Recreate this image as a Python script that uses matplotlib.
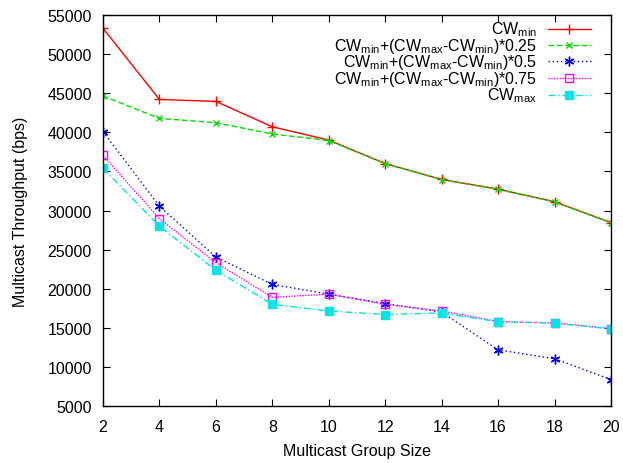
import matplotlib
matplotlib.use("Agg")
import matplotlib.pyplot as plt
from matplotlib.lines import Line2D

plt.rcParams['font.family'] = ['Liberation Sans', 'DejaVu Sans']
plt.rcParams['mathtext.fontset'] = 'custom'
plt.rcParams['mathtext.rm'] = 'Liberation Sans'
plt.rcParams['mathtext.it'] = 'Liberation Sans'

group_size = [2, 4, 6, 8, 10, 12, 14, 16, 18, 20]
cw_min = [53300, 44200, 43950, 40700, 39000, 36000, 33970, 32730, 31120, 28450]
cw_025 = [44650, 41780, 41230, 39780, 38950, 35980, 33950, 32700, 31100, 28420]
cw_050 = [40080, 30550, 24050, 20550, 19300, 18100, 17000, 12180, 11050, 8380]
cw_075 = [37050, 28950, 23330, 18900, 19300, 18000, 17150, 15800, 15620, 14900]
cw_max = [35380, 27990, 22350, 18000, 17150, 16700, 16900, 15770, 15600, 14850]

labels = [r'CW$_{\rm min}$',
          r'CW$_{\rm min}$+(CW$_{\rm max}$-CW$_{\rm min}$)*0.25',
          r'CW$_{\rm min}$+(CW$_{\rm max}$-CW$_{\rm min}$)*0.5',
          r'CW$_{\rm min}$+(CW$_{\rm max}$-CW$_{\rm min}$)*0.75',
          r'CW$_{\rm max}$']
series = [cw_min, cw_025, cw_050, cw_075, cw_max]
styles = [
    dict(color='#ff0000', ls='-', marker='+', ms=7, mfc='#ff0000'),
    dict(color='#00dd00', ls=(0, (4, 2)), marker='x', ms=5, mfc='#00dd00'),
    dict(color='#0000ff', ls=(0, (1, 2)), marker=(6, 2, 0), ms=7, mfc='#0000ff'),
    dict(color='#ff00ff', ls=(0, (1, 1)), marker='s', ms=6, mfc='none'),
    dict(color='#00e5e5', ls=(0, (5, 2, 1, 2)), marker='s', ms=6, mfc='#00e5e5'),
]

fig = plt.figure(figsize=(6.23, 4.64), dpi=100)
ax = fig.add_axes([103/623, 1-407/464, (611-103)/623, (407-16)/464])

for vals, st in zip(series, styles):
    ax.plot(group_size, vals, lw=1.0, color=st['color'], ls=st['ls'],
            marker=st['marker'], ms=st['ms'], mfc=st['mfc'], mec=st['color'], mew=1.0)

ax.set_xlim(2, 20)
ax.set_ylim(5000, 55000)
ax.set_xticks(range(2, 21, 2))
ax.set_yticks(range(5000, 55001, 5000))
ax.tick_params(direction='in', top=True, right=True, labelsize=11.5, length=5, width=0.8)
ax.tick_params(axis='x', pad=9)
ax.tick_params(axis='y', pad=8)
for s in ax.spines.values():
    s.set_linewidth(1.0)
ax.set_xlabel('Multicast Group Size', fontsize=11.5, labelpad=7)
ax.set_ylabel('Multicast Throughput (bps)', fontsize=11.5, labelpad=14)

# gnuplot-style legend (text right-aligned, sample on the right)
leg_y = [30, 46, 62, 79, 96]
for lab, st, py in zip(labels, styles, leg_y):
    yf = 1 - (py - 16) / (407 - 16)
    xt = (537 - 103) / (611 - 103)
    x0 = (548 - 103) / (611 - 103)
    x1 = (591 - 103) / (611 - 103)
    xm = (569 - 103) / (611 - 103)
    ax.text(xt, yf, lab, transform=ax.transAxes, ha='right', va='center', fontsize=11.5)
    ax.add_line(Line2D([x0, x1], [yf, yf], transform=ax.transAxes, lw=1.0,
                       color=st['color'], ls=st['ls']))
    ax.add_line(Line2D([xm], [yf], transform=ax.transAxes, marker=st['marker'], ms=st['ms'],
                       mfc=st['mfc'], mec=st['color'], mew=1.0, ls='none'))

fig.savefig('out.png', dpi=100)
